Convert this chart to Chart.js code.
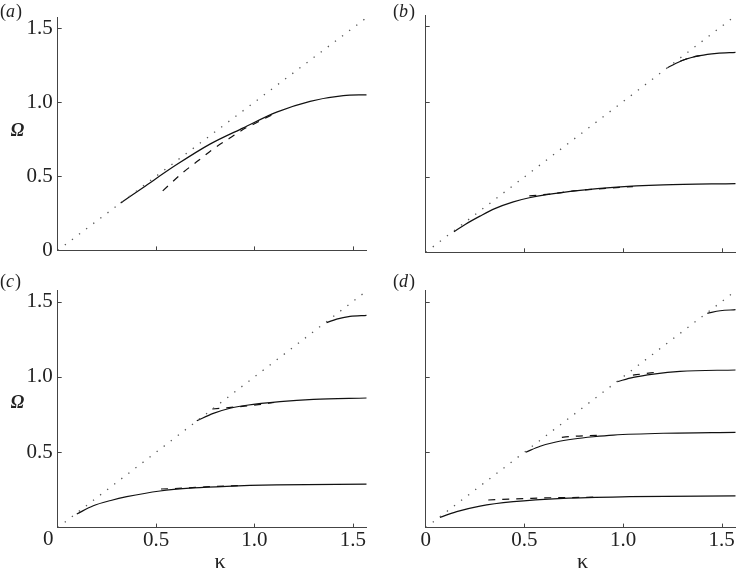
<!DOCTYPE html>
<html>
<head>
<meta charset="utf-8">
<script src="https://cdn.jsdelivr.net/npm/chart.js@4.4.0/dist/chart.umd.min.js"></script>
<style>
  html, body { margin: 0; padding: 0; background: #fff; }
  #wrap { position: relative; width: 736px; height: 574px; overflow: hidden; font-family: "Liberation Serif", serif; }
  canvas { position: absolute; }
  .pre { position: absolute; left: -1000px; top: 0; }
</style>
</head>
<body>
<div id="wrap">
  <span class="pre">0.5 <i>a</i> κ Ω</span>
  <canvas id="pa" width="368" height="268" style="left:0;top:0"></canvas>
  <canvas id="pb" width="368" height="268" style="left:368px;top:0"></canvas>
  <canvas id="pc" width="368" height="306" style="left:0;top:268px"></canvas>
  <canvas id="pd" width="368" height="306" style="left:368px;top:268px"></canvas>
</div>
<script>
// axes run from 0 to pi/2 on both kappa and Omega
const HALF_PI = 1.5708;
const diagK = [0, 1.5708];
const diagW = [0, 1.5708];

// (a)
const aSolidK = [0.32, 0.435, 0.605, 0.774, 0.944, 1.113, 1.283, 1.452, 1.5708];
const aSolidW = [0.32, 0.425, 0.579, 0.717, 0.827, 0.933, 1.006, 1.044, 1.05];
const aDashK = [0.534, 0.639, 0.715, 0.791, 0.873, 0.957, 1.003, 1.06, 1.11];
const aDashW = [0.402, 0.528, 0.606, 0.685, 0.756, 0.827, 0.856, 0.895, 0.928];

// (b)
const bLowK = [0.143, 0.2, 0.275, 0.35, 0.444, 0.525, 0.613, 0.782, 0.951, 1.204, 1.5708];
const bLowW = [0.137, 0.185, 0.24, 0.29, 0.335, 0.362, 0.383, 0.411, 0.431, 0.447, 0.456];
const bLowDashK = [0.525, 0.647, 0.748, 0.850, 0.943, 1.05];
const bLowDashW = [0.374, 0.389, 0.407, 0.418, 0.427, 0.436];
const bTopK = [1.225, 1.306, 1.390, 1.475, 1.5708];
const bTopW = [1.225, 1.276, 1.305, 1.320, 1.327];
const bTopDashK = [1.29, 1.34, 1.40];
const bTopDashW = [1.268, 1.292, 1.308];

// (c)
const cLowK = [0.097, 0.181, 0.27, 0.351, 0.52, 0.689, 0.859, 1.113, 1.5708];
const cLowW = [0.090, 0.145, 0.18, 0.205, 0.243, 0.263, 0.274, 0.283, 0.289];
const cLowDashK = [0.525, 0.656, 0.749, 0.85, 0.95];
const cLowDashW = [0.256, 0.263, 0.27, 0.276, 0.279];
const cMidK = [0.707, 0.791, 0.876, 0.961, 1.130, 1.30, 1.5708];
const cMidW = [0.709, 0.758, 0.792, 0.812, 0.836, 0.851, 0.86];
const cMidDashK = [0.786, 0.918, 1.02, 1.1];
const cMidDashW = [0.787, 0.802, 0.816, 0.83];
const cTopK = [1.367, 1.418, 1.486, 1.5708];
const cTopW = [1.36, 1.384, 1.402, 1.409];

// (d)
const d1K = [0.072, 0.157, 0.275, 0.444, 0.697, 1.035, 1.5708];
const d1W = [0.068, 0.106, 0.143, 0.172, 0.194, 0.205, 0.211];
const d1DashK = [0.317, 0.444, 0.537, 0.63, 0.731, 0.85];
const d1DashW = [0.183, 0.190, 0.194, 0.198, 0.199, 0.202];
const d2K = [0.507, 0.58, 0.66, 0.75, 0.85, 0.951, 1.204, 1.5708];
const d2W = [0.5, 0.54, 0.568, 0.588, 0.603, 0.614, 0.626, 0.632];
const d2DashK = [0.69, 0.748, 0.82, 0.9];
const d2DashW = [0.599, 0.606, 0.61, 0.613];
const d3K = [0.968, 1.052, 1.154, 1.289, 1.5708];
const d3W = [0.968, 0.997, 1.019, 1.037, 1.046];
const d3DashK = [1.05, 1.1, 1.16];
const d3DashW = [1.012, 1.02, 1.03];
const d4K = [1.427, 1.492, 1.5708];
const d4W = [1.422, 1.439, 1.446];

// ticks
const tickMarks = [0.5, 1, 1.5];
const yLabelsA = [0, 0.5, 1, 1.5];
const yLabelsC = [0.5, 1, 1.5];
const xLabelsC = [0.5, 1, 1.5];
const xLabelsD = [0, 0.5, 1, 1.5];

const SERIF = '"Liberation Serif", serif';
const TICK_SIZE = 21;

function pts(k, w){ return k.map((v, i) => ({ x: v, y: w[i] })); }

function line(k, w, kind){
  const ds = {
    data: pts(k, w), showLine: true, pointRadius: 0, fill: false,
    borderColor: '#111', borderWidth: 1.2,
    tension: 0.4, cubicInterpolationMode: 'monotone'
  };
  if(kind === 'dash'){ ds.borderDash = [7, 7]; }
  if(kind === 'dot'){ ds.borderDash = [1.3, 7.6]; ds.borderColor = '#555'; ds.borderWidth = 1.3; ds.tension = 0; }
  return ds;
}

function fmt(v){ return v === 0 ? '0' : Number(v).toFixed(1); }

// inward tick marks + panel texts
const decor = {
  id: 'decor',
  afterDraw(chart, args, o){
    const { ctx, scales: { x, y } } = chart;
    ctx.save();
    ctx.strokeStyle = '#444';
    ctx.lineWidth = 1;
    tickMarks.forEach(v => {
      const px = Math.round(x.getPixelForValue(v)) + 0.5;
      ctx.beginPath(); ctx.moveTo(px, y.bottom); ctx.lineTo(px, y.bottom - 4); ctx.stroke();
      const py = Math.round(y.getPixelForValue(v)) + 0.5;
      ctx.beginPath(); ctx.moveTo(x.left, py); ctx.lineTo(x.left + 4, py); ctx.stroke();
    });
    ctx.fillStyle = '#222';
    ctx.textBaseline = 'alphabetic';
    // panel letter
    let cx = o.letterX;
    ctx.font = '18px ' + SERIF;
    ctx.fillText('(', cx, o.letterY); cx += ctx.measureText('(').width;
    ctx.font = 'italic 18px ' + SERIF;
    ctx.fillText(o.letter, cx, o.letterY); cx += ctx.measureText(o.letter).width + 1;
    ctx.font = '18px ' + SERIF;
    ctx.fillText(')', cx, o.letterY);
    ctx.textAlign = 'center';
    if(o.omegaY){
      ctx.font = 'italic bold 18px ' + SERIF;
      ctx.fillText('Ω', 17.5, o.omegaY);
    }
    if(o.kappaY){
      ctx.font = '22px ' + SERIF;
      ctx.fillText('κ', o.kappaX, o.kappaY);
    }
    if(o.zeroY){
      ctx.font = TICK_SIZE + 'px ' + SERIF;
      ctx.fillText('0', o.zeroX, o.zeroY);
    }
    ctx.restore();
  }
};

function makePanel(id, cfg){
  new Chart(document.getElementById(id), {
    type: 'scatter',
    data: { datasets: cfg.series },
    options: {
      responsive: false,
      animation: false,
      events: [],
      layout: { padding: { top: cfg.padTop, right: cfg.padRight, left: 0, bottom: 0 } },
      plugins: {
        legend: { display: false },
        tooltip: { enabled: false },
        decor: cfg.text
      },
      scales: {
        x: {
          type: 'linear', min: 0, max: HALF_PI,
          grid: { display: false, drawTicks: false },
          border: { display: true, color: '#444', width: 1 },
          afterBuildTicks: s => { s.ticks = (cfg.xLabels.length ? cfg.xLabels : tickMarks).map(v => ({ value: v })); },
          afterFit: s => { s.height = cfg.xHeight; },
          ticks: {
            display: cfg.xLabels.length > 0, padding: 0, autoSkip: false, maxRotation: 0,
            color: '#222', font: { family: SERIF, size: TICK_SIZE }, callback: v => fmt(v)
          }
        },
        y: {
          type: 'linear', min: 0, max: HALF_PI,
          grid: { display: false, drawTicks: false },
          border: { display: true, color: '#444', width: 1 },
          afterBuildTicks: s => { s.ticks = (cfg.yLabels.length ? cfg.yLabels : tickMarks).map(v => ({ value: v })); },
          afterFit: s => { s.width = 57.7; },
          ticks: {
            display: cfg.yLabels.length > 0, padding: 5, autoSkip: false,
            color: '#222', font: { family: SERIF, size: TICK_SIZE }, callback: v => fmt(v)
          }
        }
      }
    },
    plugins: [decor]
  });
}

function drawAll(){
  makePanel('pa', {
    padTop: 15.6, padRight: 1.3, xHeight: 15.7,
    yLabels: yLabelsA, xLabels: [],
    text: { letter: 'a', letterX: 0, letterY: 16.7, omegaY: 136 },
    series: [line(diagK, diagW, 'dot'), line(aDashK, aDashW, 'dash'), line(aSolidK, aSolidW, 'solid')]
  });

  makePanel('pb', {
    padTop: 15.6, padRight: 0.3, xHeight: 15.7,
    yLabels: [], xLabels: [],
    text: { letter: 'b', letterX: 25, letterY: 16.7 },
    series: [
      line(diagK, diagW, 'dot'),
      line(bLowDashK, bLowDashW, 'dash'), line(bLowK, bLowW, 'solid'),
      line(bTopDashK, bTopDashW, 'dash'), line(bTopK, bTopW, 'solid')
    ]
  });

  makePanel('pc', {
    padTop: 22.9, padRight: 1.3, xHeight: 46.4,
    yLabels: yLabelsC, xLabels: xLabelsC,
    text: { letter: 'c', letterX: 0, letterY: 19, omegaY: 140, kappaX: 220, kappaY: 300, zeroX: 48.3, zeroY: 277 },
    series: [
      line(diagK, diagW, 'dot'),
      line(cLowDashK, cLowDashW, 'dash'), line(cLowK, cLowW, 'solid'),
      line(cMidDashK, cMidDashW, 'dash'), line(cMidK, cMidW, 'solid'),
      line(cTopK, cTopW, 'solid')
    ]
  });

  makePanel('pd', {
    padTop: 22.9, padRight: 0.3, xHeight: 46.4,
    yLabels: [], xLabels: xLabelsD,
    text: { letter: 'd', letterX: 25, letterY: 19, kappaX: 214.5, kappaY: 300 },
    series: [
      line(diagK, diagW, 'dot'),
      line(d1DashK, d1DashW, 'dash'), line(d1K, d1W, 'solid'),
      line(d2DashK, d2DashW, 'dash'), line(d2K, d2W, 'solid'),
      line(d3DashK, d3DashW, 'dash'), line(d3K, d3W, 'solid'),
      line(d4K, d4W, 'solid')
    ]
  });
}

// make sure the serif face is ready before the canvases use it
Promise.all([
  document.fonts.load('21px "Liberation Serif"'),
  document.fonts.load('italic 18px "Liberation Serif"'),
  document.fonts.load('italic bold 18px "Liberation Serif"')
]).then(drawAll, drawAll);
</script>
</body>
</html>
